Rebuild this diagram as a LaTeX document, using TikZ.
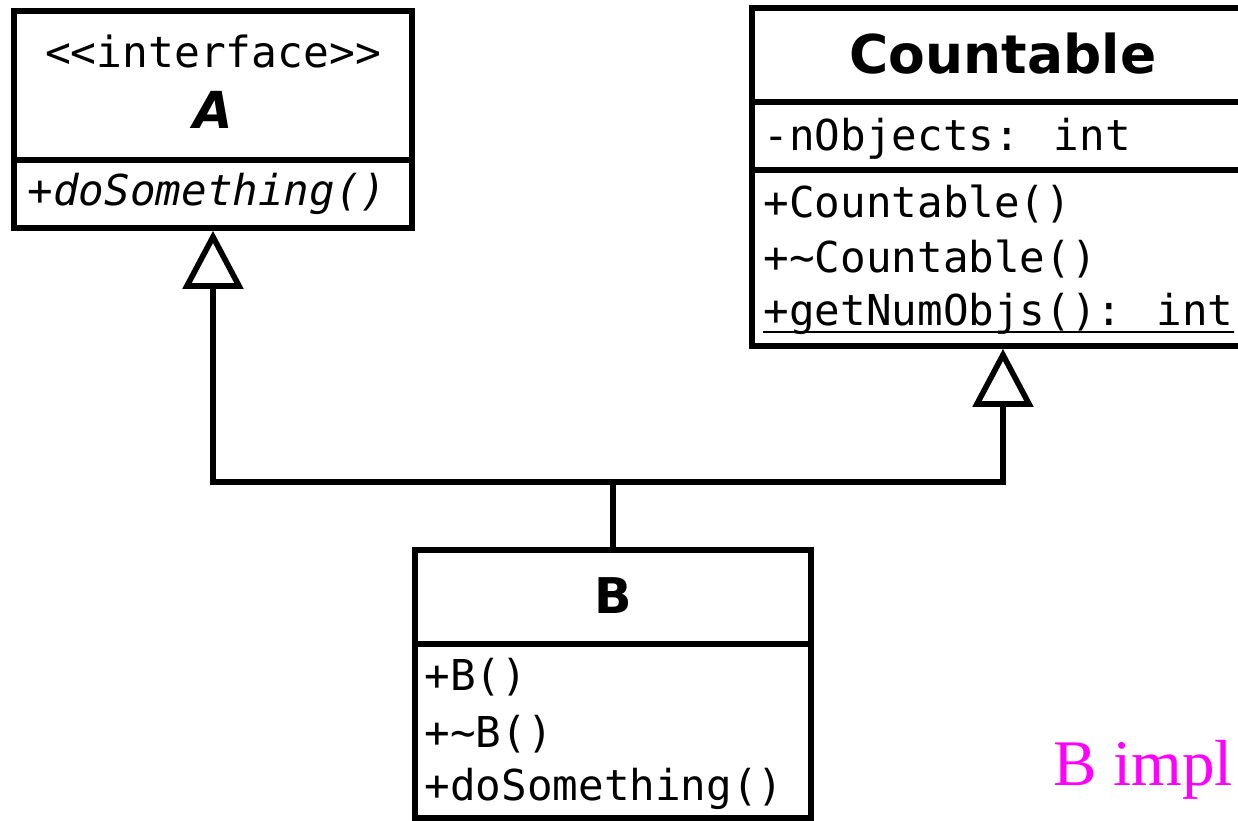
\documentclass[tikz,border=0pt]{standalone}
\usepackage{fontspec}
\newfontfamily\umlmono{DejaVu Sans Mono}
\newfontfamily\umlsans{DejaVu Sans}
\newfontfamily\noteserif{Liberation Serif}
\usetikzlibrary{arrows.meta}
\definecolor{notecol}{RGB}{255,0,255}
\begin{document}
\begin{tikzpicture}[x=0.01cm,y=-0.01cm,
  umlbox/.style={draw, line width=1.55pt, inner sep=0pt},
  divider/.style={line width=1.55pt},
  member/.style={inner sep=0pt, anchor=base west, font=\umlmono\fontsize{12.1}{14}\selectfont},
  stereo/.style={inner sep=0pt, anchor=base, font=\umlmono\fontsize{12.2}{14}\selectfont},
  title/.style={inner sep=0pt, anchor=base, font=\umlsans\bfseries\fontsize{14}{16}\selectfont},
  conn/.style={line width=1.6pt, line join=miter},
  gen/.style={conn, -{Triangle[open, length=0.58cm, width=0.6cm, line width=1.6pt]}},
  note/.style={inner sep=0pt, anchor=base west, text=notecol, font=\noteserif\fontsize{18.5}{20}\selectfont}]
\useasboundingbox (0,0) rectangle (1238,820);
\clip (0,0) rectangle (1238,820);
\fill[white] (0,0) rectangle (1238,820);

% Interface A
\node[umlbox, minimum width=3.98cm, minimum height=2.17cm] (A) at (213,119.5) {};
\draw[divider] (A.west |- 0,160) -- (A.east |- 0,160);
\node[stereo] (Astereo) at (213,67) {<<interface>>};
\node[title, font=\umlsans\bfseries\itshape\fontsize{14.5}{16}\selectfont] (Aname) at (213,128) {A};
\node[member, font=\umlmono\itshape\fontsize{12.1}{14}\selectfont] (Am1) at (27,205) {+doSomething()};

% Countable
\node[umlbox, minimum width=5.02cm, minimum height=3.38cm] (C) at (1003,177) {};
\draw[divider] (C.west |- 0,102) -- (C.east |- 0,102);
\draw[divider] (C.west |- 0,170) -- (C.east |- 0,170);
\node[title, font=\umlsans\bfseries\fontsize{15.2}{17}\selectfont] (Cname) at (1003,73) {Countable};
\node[member] (Ca1) at (763,150) {-nObjects: int};
\node[member] (Cm1) at (763,217) {+Countable()};
\node[member] (Cm2) at (763,272) {+\char`~Countable()};
\node[member] (Cm3) at (763,325) {+getNumObjs(): int};
\draw[line width=0.5pt] (Cm3.base west) ++(0,7) -- ([yshift=-0.07cm]Cm3.base east);

% B
\node[umlbox, minimum width=3.96cm, minimum height=2.68cm] (B) at (613,684) {};
\draw[divider] (B.west |- 0,644) -- (B.east |- 0,644);
\node[title] (Bname) at (613,613) {B};
\node[member] (Bm1) at (424,690) {+B()};
\node[member] (Bm2) at (424,747) {+\char`~B()};
\node[member] (Bm3) at (424,800) {+doSomething()};

% connectors
\coordinate (J) at (613,482);
\draw[conn] (B.north) -- (J);
\draw[gen] (J) -| (A.south);
\draw[gen] (J) -| (C.south);

% note
\node[note] (N) at (1053,785) {B impl};
\end{tikzpicture}
\end{document}
